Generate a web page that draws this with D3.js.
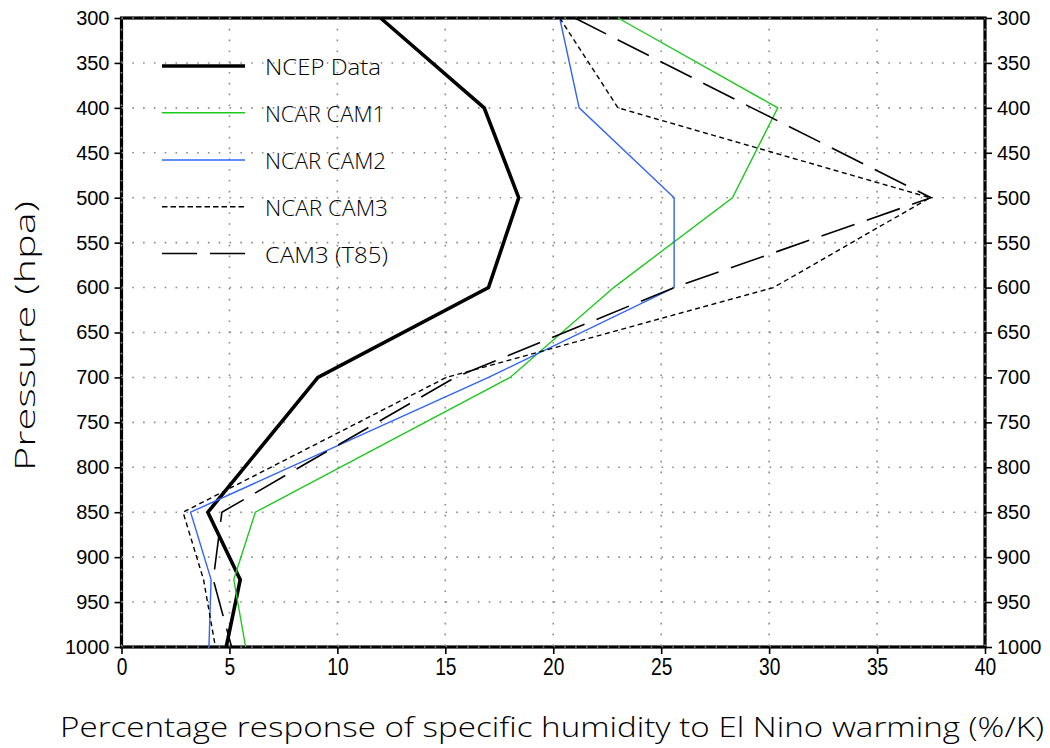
<!DOCTYPE html>
<html>
<head>
<meta charset="utf-8">
<script src="https://cdn.jsdelivr.net/npm/d3@7"></script>
<style>
  html, body { margin: 0; padding: 0; background: #fff; }
  svg { display: block; }
  text { font-family: "Liberation Sans", Arial, sans-serif; fill: #000; }
  .thin { font-family: "Open Sans", "Lato", "Liberation Sans", sans-serif; font-weight: 300; }
</style>
</head>
<body>
<svg id="chart" width="1050" height="748"></svg>
<script>
// ---- data ----
const levels = [300, 400, 500, 600, 700, 850, 925, 1000];
const ncep   = [12.0, 16.8, 18.4, 17.0, 9.1, 4.0, 5.5, 4.85];
const cam1   = [23.0, 30.4, 28.3, 22.8, 18.0, 6.2, 5.2, 5.75];
const cam2   = [20.3, 21.2, 25.6, 25.6, 17.0, 3.2, 4.15, 4.05];
const cam3   = [20.3, 23.0, 37.45, 30.2, 15.05, 2.85, 3.8, 4.35];
const camT85 = [21.0, 29.2, 37.5, 25.6, 15.45, 4.65, 4.25, 5.1];
const seriesNames = ["NCEP Data", "NCAR CAM1", "NCAR CAM2", "NCAR CAM3", "CAM3 (T85)"];
const xTicks = [0, 5, 10, 15, 20, 25, 30, 35, 40];
const yTicks = [300, 350, 400, 450, 500, 550, 600, 650, 700, 750, 800, 850, 900, 950, 1000];
const xTitle = "Percentage response of specific humidity to El Nino warming (%/K)";
const yTitle = "Pressure (hpa)";

const series = [
  {name: seriesNames[0], vals: ncep,   color: "#000000", width: 3.6, dash: null},
  {name: seriesNames[1], vals: cam1,   color: "#1ec81e", width: 1.4, dash: null},
  {name: seriesNames[2], vals: cam2,   color: "#3264f5", width: 1.4, dash: null},
  {name: seriesNames[3], vals: cam3,   color: "#000000", width: 1.4, dash: "5,3.5"},
  {name: seriesNames[4], vals: camT85, color: "#000000", width: 1.6, dash: "35,13"}
];

const svg = d3.select("#chart");
const L = 121.5, R = 985, T = 18, B = 647;
const x = d3.scaleLinear().domain([0, 40]).range([L, R]);
const y = d3.scaleLinear().domain([300, 1000]).range([T, B]);

// frame
svg.append("rect").attr("x", L).attr("y", T).attr("width", R - L).attr("height", B - T)
  .attr("fill", "none").attr("stroke", "#000").attr("stroke-width", 3.2);

// grid
const grid = svg.append("g").attr("stroke", "#8a8a8a").attr("stroke-width", 1.6)
  .attr("stroke-dasharray", "1.6,9.2");
grid.selectAll("line.v").data(xTicks).join("line").attr("class", "v")
  .attr("x1", d => x(d)).attr("x2", d => x(d)).attr("y1", T).attr("y2", B);
grid.selectAll("line.h").data(yTicks).join("line").attr("class", "h")
  .attr("x1", L).attr("x2", R).attr("y1", d => y(d)).attr("y2", d => y(d));

// axes
function styleAxis(g) {
  g.select(".domain").remove();
  g.selectAll(".tick line").attr("stroke", "#000").attr("stroke-width", 1.6);
}
svg.append("g").attr("transform", `translate(${L},0)`)
  .call(d3.axisLeft(y).tickValues(yTicks).tickSize(7).tickPadding(5).tickFormat(d3.format("d")))
  .call(styleAxis)
  .selectAll("text").attr("font-size", 20).attr("font-family", "Liberation Sans, Arial, sans-serif");
svg.append("g").attr("transform", `translate(${R},0)`)
  .call(d3.axisRight(y).tickValues(yTicks).tickSize(7).tickPadding(5).tickFormat(d3.format("d")))
  .call(styleAxis)
  .selectAll("text").attr("font-size", 20).attr("font-family", "Liberation Sans, Arial, sans-serif");
svg.append("g").attr("transform", `translate(0,${B})`)
  .call(d3.axisBottom(x).tickValues(xTicks).tickSize(7).tickPadding(4).tickFormat(d3.format("d")))
  .call(styleAxis)
  .selectAll("text").attr("font-size", 24).attr("transform", "scale(0.8,1)")
  .attr("font-family", "Liberation Sans, Arial, sans-serif");

// lines
const line = d3.line().x(d => x(d[0])).y(d => y(d[1]));
series.forEach(s => {
  svg.append("path")
    .datum(s.vals.map((v, i) => [v, levels[i]]))
    .attr("d", line)
    .attr("fill", "none")
    .attr("stroke", s.color)
    .attr("stroke-width", s.width)
    .attr("stroke-linejoin", "miter")
    .attr("stroke-dasharray", s.dash);
});

// legend
const legRows = [66, 112.7, 160, 206.7, 253.5];
const legWidths = [116, 120, 121, 123, 123];
const leg = svg.append("g");
series.forEach((s, i) => {
  leg.append("line").attr("x1", 162).attr("x2", 245)
    .attr("y1", legRows[i]).attr("y2", legRows[i])
    .attr("stroke", s.color).attr("stroke-width", s.width)
    .attr("stroke-dasharray", s.dash === "35,13" ? "35,13" : (s.dash ? "5.5,3" : null));
  leg.append("text").attr("class", "thin").attr("x", 265).attr("y", legRows[i] + 9)
    .attr("font-size", 22)
    .attr("textLength", legWidths[i]).attr("lengthAdjust", "spacingAndGlyphs")
    .text(s.name);
});

// titles
svg.append("text").attr("class", "thin").attr("x", 60).attr("y", 737)
  .attr("font-size", 28)
  .attr("textLength", 984).attr("lengthAdjust", "spacingAndGlyphs")
  .text(xTitle);
svg.append("text").attr("class", "thin").attr("transform", "translate(35,471) rotate(-90)")
  .attr("font-size", 28)
  .attr("textLength", 270).attr("lengthAdjust", "spacingAndGlyphs")
  .text(yTitle);
</script>
</body>
</html>
